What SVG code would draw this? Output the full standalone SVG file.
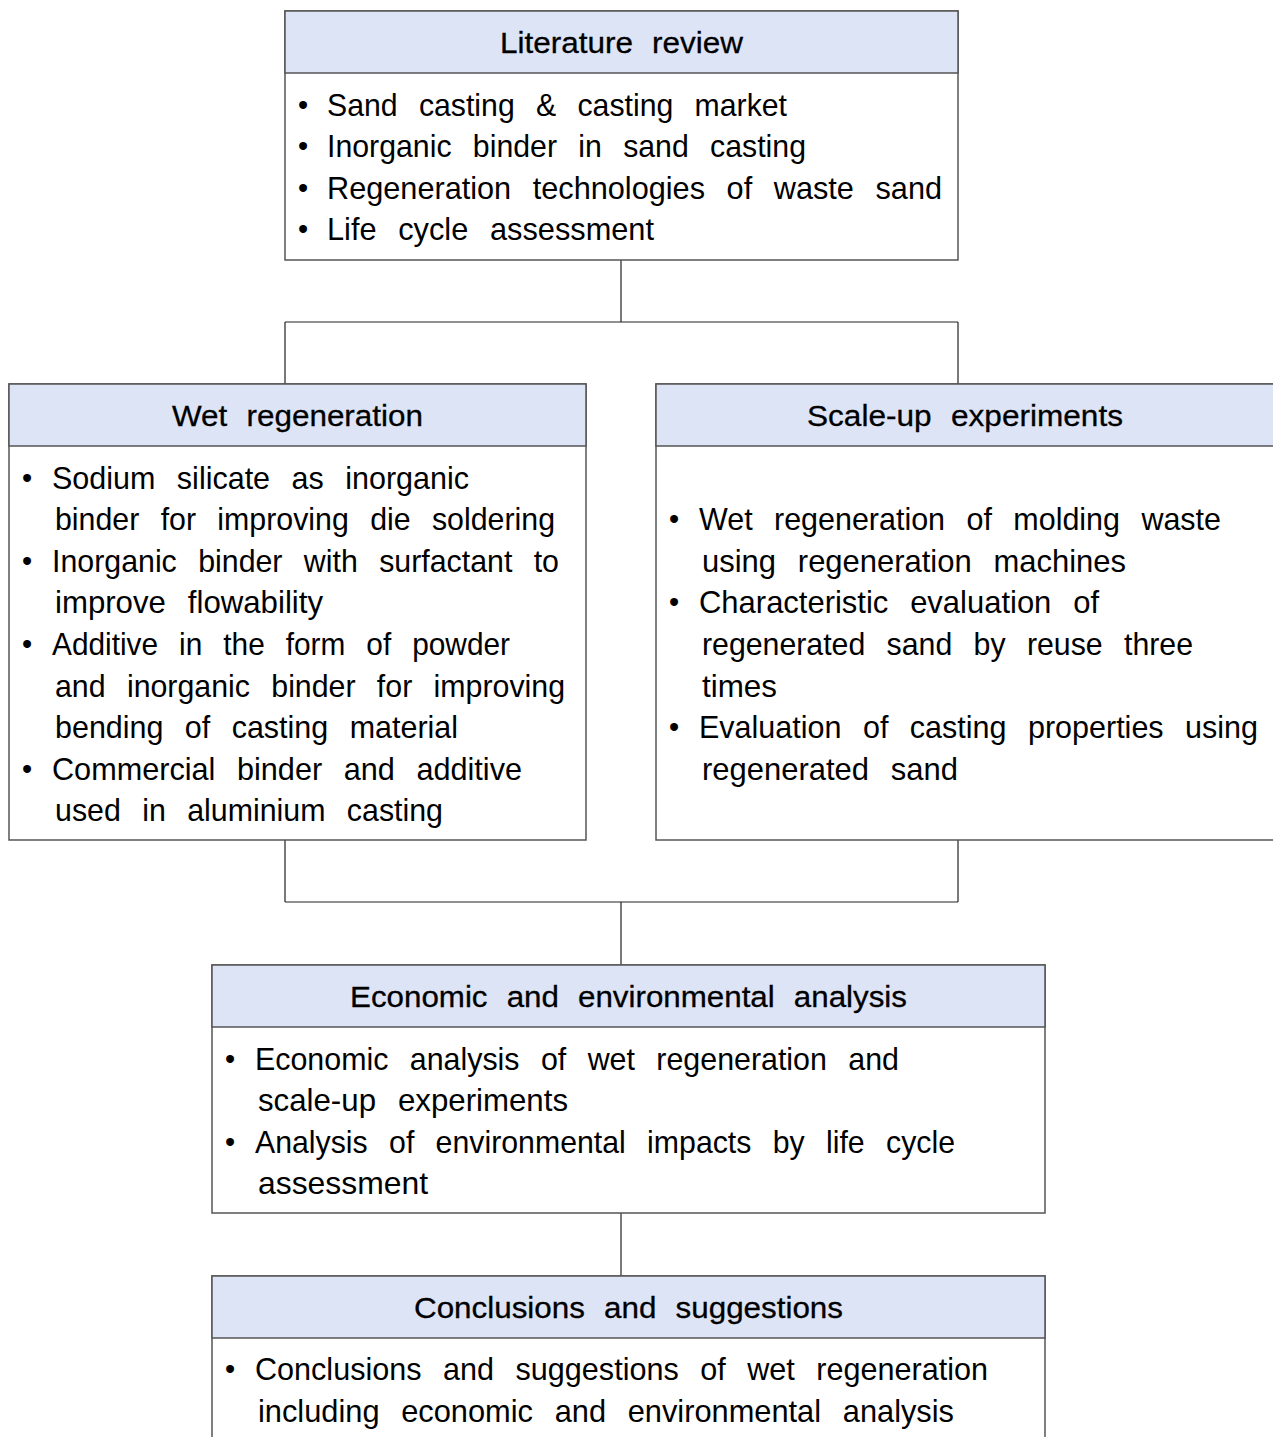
<svg xmlns="http://www.w3.org/2000/svg" width="1273" height="1437" viewBox="0 0 1273 1437">
<style>
.box{fill:#ffffff;stroke:#555555;stroke-width:1.5}
.hd{fill:#dde4f6;stroke:#555555;stroke-width:1.5}
.t{font-family:"Liberation Sans",Arial,sans-serif;font-size:30.5px;fill:#000;word-spacing:13px}
.h{font-family:"Liberation Sans",Arial,sans-serif;font-size:30px;fill:#000;stroke:#000;stroke-width:0.3px;word-spacing:10px;text-anchor:middle}
.b{font-family:"Liberation Sans",Arial,sans-serif;font-size:29px;fill:#000}
.c{fill:none;stroke:#222;stroke-width:1.2}
</style>
<rect width="1273" height="1437" fill="#ffffff"/>
<g id="connectors">
<path class="c" d="M621,260V322M285,322H958M285,322V384M958,322V384"/>
<path class="c" d="M285,840V902M958,840V902M285,902H958M621,902V965"/>
<path class="c" d="M621,1213V1276"/>
</g>
<g id="literature">
<rect class="box" x="285" y="11" width="673" height="249"/>
<rect class="hd" x="285" y="11" width="673" height="62"/>
<text class="h" x="621.5" y="53" textLength="243" lengthAdjust="spacingAndGlyphs">Literature review</text>
<text class="b" x="298" y="115">•</text>
<text class="t" x="327" y="116" textLength="460" lengthAdjust="spacingAndGlyphs">Sand casting &amp; casting market</text>
<text class="b" x="298" y="156">•</text>
<text class="t" x="327" y="157" textLength="479" lengthAdjust="spacingAndGlyphs">Inorganic binder in sand casting</text>
<text class="b" x="298" y="198">•</text>
<text class="t" x="327" y="199" textLength="615" lengthAdjust="spacingAndGlyphs">Regeneration technologies of waste sand</text>
<text class="b" x="298" y="239">•</text>
<text class="t" x="327" y="240" textLength="327" lengthAdjust="spacingAndGlyphs">Life cycle assessment</text>
</g>
<g id="wet">
<rect class="box" x="9" y="384" width="577" height="456"/>
<rect class="hd" x="9" y="384" width="577" height="62"/>
<text class="h" x="297.5" y="426" textLength="251" lengthAdjust="spacingAndGlyphs">Wet regeneration</text>
<text class="b" x="22" y="488">•</text>
<text class="t" x="52" y="489" textLength="417" lengthAdjust="spacingAndGlyphs">Sodium silicate as inorganic</text>
<text class="t" x="55" y="530" textLength="500" lengthAdjust="spacingAndGlyphs">binder for improving die soldering</text>
<text class="b" x="22" y="571">•</text>
<text class="t" x="52" y="572" textLength="507" lengthAdjust="spacingAndGlyphs">Inorganic binder with surfactant to</text>
<text class="t" x="55" y="613" textLength="268" lengthAdjust="spacingAndGlyphs">improve flowability</text>
<text class="b" x="22" y="654">•</text>
<text class="t" x="52" y="655" textLength="458" lengthAdjust="spacingAndGlyphs">Additive in the form of powder</text>
<text class="t" x="55" y="697" textLength="510" lengthAdjust="spacingAndGlyphs">and inorganic binder for improving</text>
<text class="t" x="55" y="738" textLength="403" lengthAdjust="spacingAndGlyphs">bending of casting material</text>
<text class="b" x="22" y="779">•</text>
<text class="t" x="52" y="780" textLength="470" lengthAdjust="spacingAndGlyphs">Commercial binder and additive</text>
<text class="t" x="55" y="821" textLength="388" lengthAdjust="spacingAndGlyphs">used in aluminium casting</text>
</g>
<g id="scaleup">
<rect class="box" x="656" y="384" width="630" height="456"/>
<rect class="hd" x="656" y="384" width="630" height="62"/>
<text class="h" x="965" y="426" textLength="316" lengthAdjust="spacingAndGlyphs">Scale-up experiments</text>
<text class="b" x="669" y="529">•</text>
<text class="t" x="699" y="530" textLength="522" lengthAdjust="spacingAndGlyphs">Wet regeneration of molding waste</text>
<text class="t" x="702" y="572" textLength="424" lengthAdjust="spacingAndGlyphs">using regeneration machines</text>
<text class="b" x="669" y="612">•</text>
<text class="t" x="699" y="613" textLength="400" lengthAdjust="spacingAndGlyphs">Characteristic evaluation of</text>
<text class="t" x="702" y="655" textLength="491" lengthAdjust="spacingAndGlyphs">regenerated sand by reuse three</text>
<text class="t" x="702" y="697" textLength="75" lengthAdjust="spacingAndGlyphs">times</text>
<text class="b" x="669" y="737">•</text>
<text class="t" x="699" y="738" textLength="559" lengthAdjust="spacingAndGlyphs">Evaluation of casting properties using</text>
<text class="t" x="702" y="780" textLength="256" lengthAdjust="spacingAndGlyphs">regenerated sand</text>
</g>
<g id="economic">
<rect class="box" x="212" y="965" width="833" height="248"/>
<rect class="hd" x="212" y="965" width="833" height="62"/>
<text class="h" x="628.5" y="1007" textLength="557" lengthAdjust="spacingAndGlyphs">Economic and environmental analysis</text>
<text class="b" x="225" y="1069">•</text>
<text class="t" x="255" y="1070" textLength="644" lengthAdjust="spacingAndGlyphs">Economic analysis of wet regeneration and</text>
<text class="t" x="258" y="1111" textLength="310" lengthAdjust="spacingAndGlyphs">scale-up experiments</text>
<text class="b" x="225" y="1152">•</text>
<text class="t" x="255" y="1153" textLength="700" lengthAdjust="spacingAndGlyphs">Analysis of environmental impacts by life cycle</text>
<text class="t" x="258" y="1194" textLength="170" lengthAdjust="spacingAndGlyphs">assessment</text>
</g>
<g id="conclusions">
<rect class="box" x="212" y="1276" width="833" height="175"/>
<rect class="hd" x="212" y="1276" width="833" height="62"/>
<text class="h" x="628.5" y="1318" textLength="429" lengthAdjust="spacingAndGlyphs">Conclusions and suggestions</text>
<text class="b" x="225" y="1379">•</text>
<text class="t" x="255" y="1380" textLength="733" lengthAdjust="spacingAndGlyphs">Conclusions and suggestions of wet regeneration</text>
<text class="t" x="258" y="1422" textLength="696" lengthAdjust="spacingAndGlyphs">including economic and environmental analysis</text>
</g>
</svg>
